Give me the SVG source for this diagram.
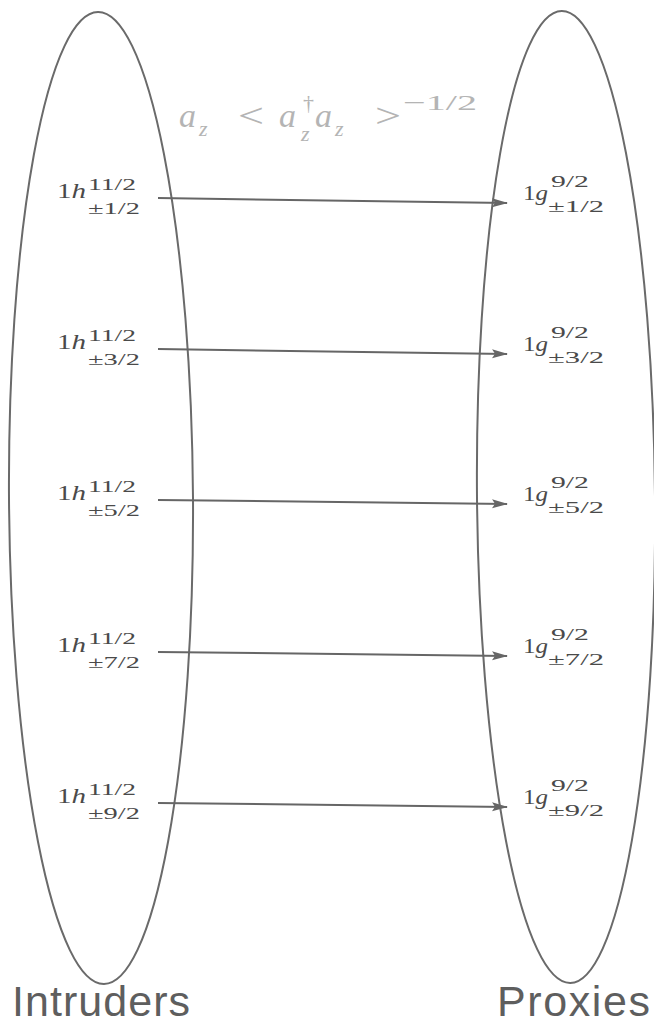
<svg xmlns="http://www.w3.org/2000/svg" width="654" height="1023" viewBox="0 0 654 1023">
<style>
.ell{fill:none;stroke:#6a6a6a;stroke-width:2}
.arr{stroke:#666;stroke-width:2;fill:none}
.m{font-family:"Liberation Serif","DejaVu Serif",serif;fill:#4a4a4a;font-size:22px}
.i{font-style:italic}
.s{font-family:"Liberation Serif","DejaVu Serif",serif;fill:#4a4a4a;font-size:17px}
.f{font-family:"Liberation Serif","DejaVu Serif",serif;fill:#b4b4b4;font-size:34px}
.fs{font-family:"Liberation Serif","DejaVu Serif",serif;fill:#b4b4b4;font-size:22px}
.lab{font-family:"Liberation Sans","DejaVu Sans",sans-serif;fill:#5e5e5e;font-size:43px}
</style>
<defs>
<marker id="ah" markerWidth="16" markerHeight="12" refX="15" refY="6" orient="auto" markerUnits="userSpaceOnUse">
<path d="M0,1.5 L16,6 L0,10.5 L3,6 Z" fill="#666"/>
</marker>
</defs>
<rect width="654" height="1023" fill="#fff"/>
<g id="intruders">
<ellipse class="ell" cx="101" cy="498" rx="92" ry="486" transform="rotate(-0.35 101 498)"/>
<text class="lab" x="12" y="1016" textLength="178">Intruders</text>
</g>
<g id="proxies">
<ellipse class="ell" cx="566" cy="497" rx="89" ry="486" transform="rotate(-0.5 566 497)"/>
<text class="lab" x="497" y="1016" textLength="153">Proxies</text>
</g>
<g id="formula">
<text class="f i" x="179" y="127">a</text>
<text class="fs i" x="199" y="136">z</text>
<text class="f" x="238" y="127" textLength="26" lengthAdjust="spacingAndGlyphs">&lt;</text>
<text class="f i" x="279" y="127">a</text>
<text class="fs" x="303" y="110">†</text>
<text class="fs i" x="301" y="141">z</text>
<text class="f i" x="315" y="127">a</text>
<text class="fs i" x="335" y="136">z</text>
<text class="f" x="375" y="127" textLength="26" lengthAdjust="spacingAndGlyphs">&gt;</text>
<text class="fs" x="403" y="110" textLength="74" lengthAdjust="spacingAndGlyphs">−1/2</text>
</g>
<g id="connectors">
<line class="arr" x1="158" y1="198" x2="507" y2="203" marker-end="url(#ah)"/>
<line class="arr" x1="158" y1="349" x2="507" y2="354" marker-end="url(#ah)"/>
<line class="arr" x1="158" y1="500" x2="507" y2="504" marker-end="url(#ah)"/>
<line class="arr" x1="158" y1="652" x2="507" y2="656" marker-end="url(#ah)"/>
<line class="arr" x1="158" y1="803" x2="507" y2="807" marker-end="url(#ah)"/>
</g>
<g id="h1"><text class="m" x="57" y="198" textLength="29" lengthAdjust="spacingAndGlyphs">1<tspan class="i">h</tspan></text><text class="s" x="88" y="190" textLength="48" lengthAdjust="spacingAndGlyphs">11/2</text><text class="s" x="88" y="214" textLength="52" lengthAdjust="spacingAndGlyphs">±1/2</text></g>
<g id="h3"><text class="m" x="57" y="349" textLength="29" lengthAdjust="spacingAndGlyphs">1<tspan class="i">h</tspan></text><text class="s" x="88" y="341" textLength="48" lengthAdjust="spacingAndGlyphs">11/2</text><text class="s" x="88" y="365" textLength="52" lengthAdjust="spacingAndGlyphs">±3/2</text></g>
<g id="h5"><text class="m" x="57" y="500" textLength="29" lengthAdjust="spacingAndGlyphs">1<tspan class="i">h</tspan></text><text class="s" x="88" y="492" textLength="48" lengthAdjust="spacingAndGlyphs">11/2</text><text class="s" x="88" y="516" textLength="52" lengthAdjust="spacingAndGlyphs">±5/2</text></g>
<g id="h7"><text class="m" x="57" y="652" textLength="29" lengthAdjust="spacingAndGlyphs">1<tspan class="i">h</tspan></text><text class="s" x="88" y="644" textLength="48" lengthAdjust="spacingAndGlyphs">11/2</text><text class="s" x="88" y="668" textLength="52" lengthAdjust="spacingAndGlyphs">±7/2</text></g>
<g id="h9"><text class="m" x="57" y="803" textLength="29" lengthAdjust="spacingAndGlyphs">1<tspan class="i">h</tspan></text><text class="s" x="88" y="795" textLength="48" lengthAdjust="spacingAndGlyphs">11/2</text><text class="s" x="88" y="819" textLength="52" lengthAdjust="spacingAndGlyphs">±9/2</text></g>
<g id="g1"><text class="m" x="523" y="200" textLength="25" lengthAdjust="spacingAndGlyphs">1<tspan class="i">g</tspan></text><text class="s" x="551" y="187" textLength="38" lengthAdjust="spacingAndGlyphs">9/2</text><text class="s" x="548" y="212" textLength="56" lengthAdjust="spacingAndGlyphs">±1/2</text></g>
<g id="g3"><text class="m" x="523" y="351" textLength="25" lengthAdjust="spacingAndGlyphs">1<tspan class="i">g</tspan></text><text class="s" x="551" y="338" textLength="38" lengthAdjust="spacingAndGlyphs">9/2</text><text class="s" x="548" y="363" textLength="56" lengthAdjust="spacingAndGlyphs">±3/2</text></g>
<g id="g5"><text class="m" x="523" y="501" textLength="25" lengthAdjust="spacingAndGlyphs">1<tspan class="i">g</tspan></text><text class="s" x="551" y="488" textLength="38" lengthAdjust="spacingAndGlyphs">9/2</text><text class="s" x="548" y="513" textLength="56" lengthAdjust="spacingAndGlyphs">±5/2</text></g>
<g id="g7"><text class="m" x="523" y="653" textLength="25" lengthAdjust="spacingAndGlyphs">1<tspan class="i">g</tspan></text><text class="s" x="551" y="640" textLength="38" lengthAdjust="spacingAndGlyphs">9/2</text><text class="s" x="548" y="665" textLength="56" lengthAdjust="spacingAndGlyphs">±7/2</text></g>
<g id="g9"><text class="m" x="523" y="804" textLength="25" lengthAdjust="spacingAndGlyphs">1<tspan class="i">g</tspan></text><text class="s" x="551" y="791" textLength="38" lengthAdjust="spacingAndGlyphs">9/2</text><text class="s" x="548" y="816" textLength="56" lengthAdjust="spacingAndGlyphs">±9/2</text></g>
</svg>
